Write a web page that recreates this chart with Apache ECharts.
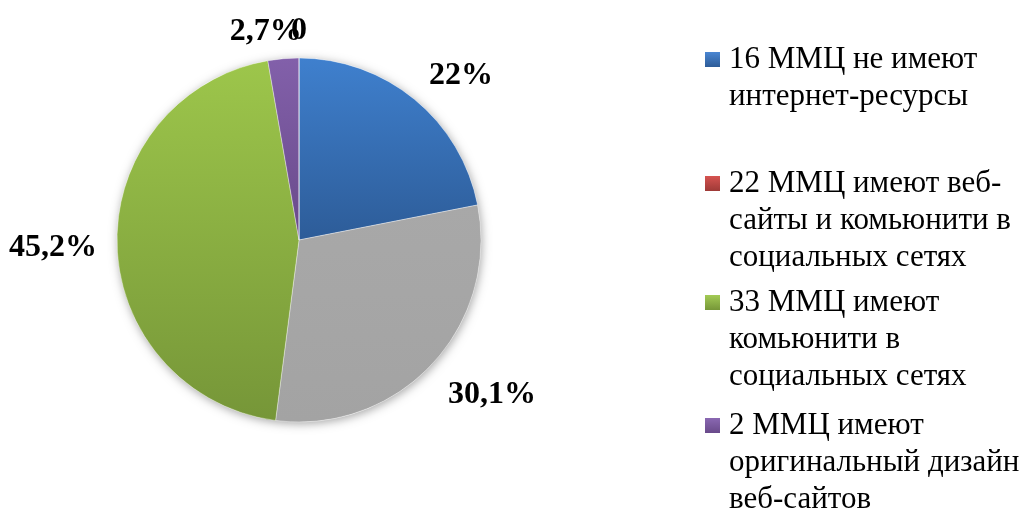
<!DOCTYPE html>
<html><head><meta charset="utf-8">
<script src="https://cdn.jsdelivr.net/npm/echarts@6/dist/echarts.min.js"></script>
<style>html,body{margin:0;padding:0;background:#fff}#c{width:1030px;height:508px}</style>
</head><body><div id="c"></div>
<script>
const categories = [
  '16 ММЦ не имеют интернет-ресурсы',
  '22 ММЦ имеют веб-сайты и комьюнити в социальных сетях',
  '33 ММЦ имеют комьюнити в социальных сетях',
  '2 ММЦ имеют оригинальный дизайн веб-сайтов',
  ''
];
const values = [16, 22, 33, 2, 0];
const labelTexts = ['22%', '30,1%', '45,2%', '2,7%', '0'];
const legendTexts = [
  '16 ММЦ не имеют\nинтернет-ресурсы',
  '22 ММЦ имеют веб-\nсайты и комьюнити в\nсоциальных сетях',
  '33 ММЦ имеют\nкомьюнити в\nсоциальных сетях',
  '2 ММЦ имеют\nоригинальный дизайн\nвеб-сайтов'
];
const sliceColors = [
  ['#3f80ce', '#2d5c98'],
  ['#a8a8a8', '#a3a3a3'],
  ['#9dc64b', '#769638'],
  ['#8260aa', '#694a8a'],
  ['#c0504d', '#9e3a37']
];
const legendColors = [
  ['#4a86d2', '#2d5c98'],
  ['#d65350', '#9e3a37'],
  ['#a3cb55', '#769638'],
  ['#8a68b2', '#694a8a']
];
const labelOffsets = [[-2,-10],[-2,18],[3,3],[25,-9],[13,-9]];

function grad(c) {
  return new echarts.graphic.LinearGradient(0, 0, 0, 1, [{offset: 0, color: c[0]}, {offset: 1, color: c[1]}]);
}

const chart = echarts.init(document.getElementById('c'), null, {renderer: 'canvas'});
const legendGraphics = [];
const legendTops = [60, 184, 303, 426];
legendTexts.forEach((t, i) => {
  legendGraphics.push({
    type: 'rect', left: 705, top: legendTops[i] - 8,
    shape: {width: 15, height: 15},
    style: {fill: grad(legendColors[i])}
  });
  legendGraphics.push({
    type: 'text', left: 729, top: legendTops[i] - 18.5,
    style: {text: t, font: '31px "Liberation Serif"', lineHeight: 37, fill: '#000'}
  });
});

chart.setOption({
  animation: false,
  graphic: legendGraphics,
  series: [
    {
      type: 'pie', silent: true, center: [299, 240], radius: 182,
      label: {show: false}, labelLine: {show: false},
      data: [{value: 1, itemStyle: {color: '#fff', shadowBlur: 10, shadowColor: 'rgba(0,0,0,0.35)', shadowOffsetX: 1, shadowOffsetY: 2}}]
    },
    {
      type: 'pie', center: [299, 240], radius: 182, startAngle: 90, clockwise: true,
      avoidLabelOverlap: false,
      itemStyle: {borderColor: 'rgba(255,255,255,0.6)', borderWidth: 0.6},
      label: {
        show: true, position: 'outside',
        fontFamily: 'Liberation Serif', fontWeight: 'bold', fontSize: 32, color: '#000',
        formatter: p => labelTexts[p.dataIndex]
      },
      labelLine: {show: false, length: 18, length2: 0},
      labelLayout: p => ({dx: labelOffsets[p.dataIndex][0], dy: labelOffsets[p.dataIndex][1]}),
      data: categories.map((n, i) => ({name: n, value: values[i], itemStyle: {color: grad(sliceColors[i])}}))
    }
  ]
});
</script></body></html>
